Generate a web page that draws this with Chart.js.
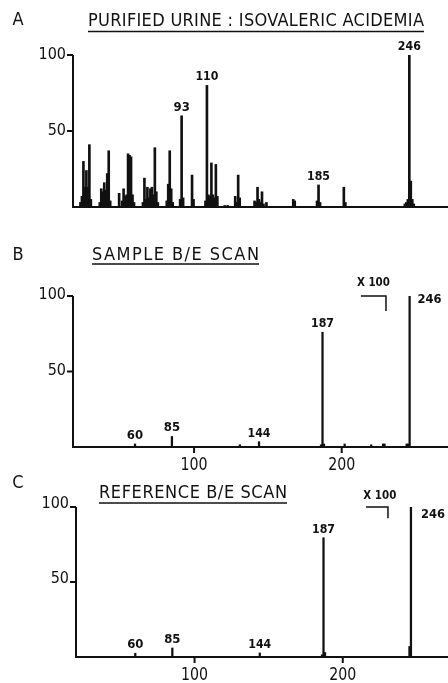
<!DOCTYPE html>
<html>
<head>
<meta charset="utf-8">
<script src="https://cdn.jsdelivr.net/npm/chart.js@4.4.1/dist/chart.umd.min.js"></script>
<style>
  body { margin: 0; background: #fff; width: 448px; height: 683px; overflow: hidden; }
  canvas { position: absolute; left: 0; }
</style>
</head>
<body>
<canvas id="panelA" width="448" height="230" style="top:0"></canvas>
<canvas id="panelB" width="448" height="240" style="top:230px"></canvas>
<canvas id="panelC" width="448" height="213" style="top:470px"></canvas>
<script>
// panel A: purified urine spectrum (m/z, relative intensity)
const mzA = [25,26,27,28,29,30,31,32, 38,39,40,41,42,43,44,45, 51,
    53,54,55,56,57,58,59,60,61, 67,68,69,70,71,72,73,74,75,76,77,
    83,84,85,86,87, 92,93,94, 100,101, 109,110,111,112,113,114,115,116,117,
    122,124, 129,130,131,132, 142,143,144,145,146,147,148,150,
    168,169, 184,185,186, 202,203, 243,244,245,246,247,248,249];
const intA = [3,7,30,13,24,13,41,5, 3,12,10,16,11,22,37,4, 9,
    4,12,7,8,35,34,33,8,3, 3,19,5,13,6,12,13,8,39,10,3,
    4,15,37,12,3, 5,60,6, 21,5, 4,80,8,7,29,8,6,28,7,
    1,1, 7,3,21,6, 4,3,13,5,3,10,2,3,
    5,4, 4,14.5,3, 13,3, 2,3,5,100,17,5,2];

// panel B: sample B/E scan
const mzB = [60, 85, 131, 144, 186, 187, 188, 202, 220, 228, 229, 244, 245, 246];
const intB = [2, 7, 1.5, 3.5, 1.5, 76, 2, 2, 1.5, 2, 2, 2, 2, 100];

// panel C: reference B/E scan
const mzC = [60, 85, 144, 186, 187, 188, 245, 246];
const intC = [2.5, 6, 2.7, 1.5, 79.5, 3, 7, 100];

const yTicks = [50, 100];
const xTicks = [100, 200];
const labelsA = [93, 110, 185, 246];
const labelsBC = [60, 85, 144, 187];
const labelsRight = [246];

const ink = '#111';
const fontFam = '"DejaVu Sans Condensed", "DejaVu Sans", sans-serif';

const spectrumPlugin = {
    id: 'spectrum',
    afterDraw(chart, args, o) {
        const ctx = chart.ctx;
        const xs = chart.scales.x, ys = chart.scales.y, area = chart.chartArea;
        const pts = chart.data.datasets[0].data;
        const valueAt = m => (pts.find(p => p.x === m) || {y: 0}).y;
        ctx.save();
        ctx.strokeStyle = ink;
        ctx.fillStyle = ink;
        ctx.lineWidth = 2;
        ctx.lineCap = 'butt';

        const y0 = ys.getPixelForValue(0);
        const yTop = ys.getPixelForValue(100);
        ctx.beginPath();
        ctx.moveTo(area.left, yTop);
        ctx.lineTo(area.left, y0);
        ctx.lineTo(area.right, y0);
        ctx.stroke();

        // y ticks
        ctx.font = '16px ' + fontFam;
        ctx.textAlign = 'right';
        ctx.textBaseline = 'middle';
        yTicks.forEach(v => {
            const y = ys.getPixelForValue(v);
            ctx.beginPath();
            ctx.moveTo(area.left - 6, y);
            ctx.lineTo(area.left, y);
            ctx.stroke();
            ctx.fillText(String(v), area.left - 7, y + (o.yLabelShift || 0));
        });

        // x ticks
        if (o.xTicks) {
            ctx.font = '18px ' + fontFam;
            ctx.textAlign = 'center';
            o.xTicks.forEach(v => {
                const x = xs.getPixelForValue(v);
                ctx.beginPath();
                ctx.moveTo(x, y0);
                ctx.lineTo(x, y0 + 6);
                ctx.stroke();
                ctx.fillText(String(v), x, y0 + 18, 27);
            });
        }

        // peak labels
        ctx.font = 'bold 13px ' + fontFam;
        ctx.textAlign = 'center';
        ctx.textBaseline = 'alphabetic';
        o.peaks.forEach(m => {
            const x = xs.getPixelForValue(m);
            const y = ys.getPixelForValue(valueAt(m));
            ctx.fillText(String(m), x, y - 5, 23);
        });
        (o.rightPeaks || []).forEach(m => {
            const x = xs.getPixelForValue(m);
            const y = ys.getPixelForValue(valueAt(m));
            ctx.textAlign = 'left';
            ctx.textBaseline = 'middle';
            ctx.fillText(String(m), x + o.rightGap, y + o.rightDrop, 24);
        });

        // x100 bracket
        if (o.bracket) {
            const b = o.bracket;
            const bx0 = xs.getPixelForValue(b.from), bx1 = xs.getPixelForValue(b.to);
            const by = ys.getPixelForValue(100), byEnd = ys.getPixelForValue(b.down);
            ctx.lineWidth = 1.5;
            ctx.beginPath();
            ctx.moveTo(bx0, by);
            ctx.lineTo(bx1, by);
            ctx.lineTo(bx1, byEnd);
            ctx.stroke();
            ctx.textAlign = 'center';
            ctx.textBaseline = 'middle';
            ctx.fillText('X 100', xs.getPixelForValue(b.labelAt), by - b.labelLift, 33);
        }

        // panel letter and title, spread to the underline width
        ctx.font = '18px ' + fontFam;
        ctx.textBaseline = 'middle';
        ctx.textAlign = 'center';
        ctx.fillText(o.letter, 18, o.letterY);
        const span = o.titleR - o.titleL;
        const w = ctx.measureText(o.title).width;
        if (w < span && 'letterSpacing' in ctx) {
            ctx.letterSpacing = ((span - w) / (o.title.length - 1)) + 'px';
            ctx.textAlign = 'left';
            ctx.fillText(o.title, o.titleL, o.titleY);
            ctx.letterSpacing = '0px';
        } else {
            ctx.fillText(o.title, (o.titleL + o.titleR) / 2, o.titleY, span);
        }
        ctx.lineWidth = 1.5;
        ctx.beginPath();
        ctx.moveTo(o.titleL, o.underY);
        ctx.lineTo(o.titleR, o.underY);
        ctx.stroke();
        ctx.restore();
    }
};

function makeSpectrum(id, mz, inten, xMin, xMax, pad, barW, deco) {
    return new Chart(document.getElementById(id), {
        type: 'bar',
        data: {
            datasets: [{
                data: mz.map((m, i) => ({x: m, y: inten[i]})),
                backgroundColor: ink,
                borderWidth: 0,
                barThickness: barW
            }]
        },
        options: {
            responsive: false,
            animation: false,
            layout: {padding: pad},
            scales: {
                x: {type: 'linear', min: xMin, max: xMax, offset: false, display: false},
                y: {min: 0, max: 100, display: false}
            },
            plugins: {
                legend: {display: false},
                tooltip: {enabled: false},
                spectrum: deco
            }
        },
        plugins: [spectrumPlugin]
    });
}

makeSpectrum('panelA', mzA, intA, 20, 272, {left: 73, right: 0, top: 55, bottom: 23}, 2, {
    letter: 'A', letterY: 20, title: 'PURIFIED URINE : ISOVALERIC ACIDEMIA',
    titleL: 88, titleR: 424, titleY: 21, underY: 31.5,
    peaks: labelsA, yLabelShift: 0
});

makeSpectrum('panelB', mzB, intB, 18, 272, {left: 73, right: 0, top: 66, bottom: 23}, 1.6, {
    letter: 'B', letterY: 25, title: 'SAMPLE B/E SCAN',
    titleL: 92, titleR: 259, titleY: 25, underY: 34,
    peaks: labelsBC, rightPeaks: labelsRight, rightGap: 8, rightDrop: 4,
    xTicks: xTicks, yLabelShift: -1,
    bracket: {from: 213, to: 230, down: 90, labelAt: 221.5, labelLift: 13}
});

makeSpectrum('panelC', mzC, intC, 20, 271, {left: 76, right: 0, top: 37, bottom: 26}, 1.6, {
    letter: 'C', letterY: 13, title: 'REFERENCE B/E SCAN',
    titleL: 99, titleR: 287, titleY: 23, underY: 33,
    peaks: labelsBC, rightPeaks: labelsRight, rightGap: 10, rightDrop: 8,
    xTicks: xTicks, yLabelShift: -3,
    bracket: {from: 215.7, to: 230.5, down: 92.5, labelAt: 225, labelLift: 11}
});
</script>
</body>
</html>
